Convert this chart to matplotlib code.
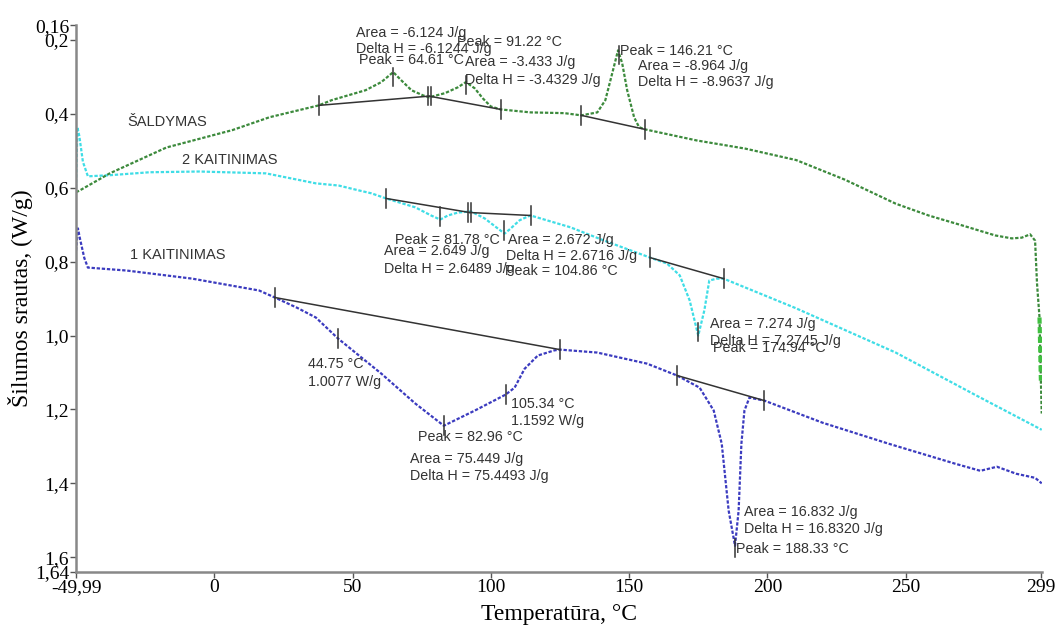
import matplotlib.pyplot as plt
from matplotlib.ticker import FixedLocator

plt.rcParams['font.family'] = ['Liberation Serif', 'DejaVu Serif']

# ŠALDYMAS (cooling) curve
green_T = [-49.99, -48.6, -37.8, -17.3, 6.5, 20, 37.8, 42.4, 54.7, 60.4, 64.7, 67.6, 71.3, 75.5, 77.7,
           83.4, 88.1, 91.0, 94.2, 97.1, 100, 103.6, 114.4, 126.6, 132.7, 138.5, 141.4, 143.9, 146.0,
           147.5, 149.3, 151.8, 153.6, 155.8, 174.5, 192, 210.4, 228, 246.4, 258.3, 270.5, 282.4, 288.4,
           292, 295, 296.8, 297.5, 298.4, 298.9, 299.2]
green_y = [0.612, 0.607, 0.561, 0.491, 0.444, 0.409, 0.377, 0.363, 0.336, 0.314, 0.287, 0.309, 0.336, 0.350, 0.355,
           0.344, 0.328, 0.314, 0.331, 0.358, 0.380, 0.388, 0.396, 0.398, 0.404, 0.396, 0.363, 0.290, 0.228,
           0.263, 0.336, 0.409, 0.436, 0.442, 0.472, 0.494, 0.525, 0.578, 0.643, 0.675, 0.702, 0.729, 0.737,
           0.735, 0.726, 0.743, 0.859, 0.951, 1.122, 1.211]

# 2 KAITINIMAS (second heating)
cyan_T = [-49.99, -49.5, -48.8, -47.5, -45.7, -37.8, -23.4, -5.4, 18.7, 36.7, 45, 52.2, 56.8, 62.2,
          72.7, 78.4, 81.7, 84.5, 88.1, 92.8, 97.8, 102.5, 105.0, 107.2, 110.4, 113.3, 114.4,
          128.8, 141, 157.6, 163.7, 168.3, 171.9, 175.0, 177.2, 179, 181.7, 184.2, 210, 246.4, 275, 299.2]
cyan_y = [0.60, 0.436, 0.46, 0.53, 0.569, 0.566, 0.558, 0.556, 0.561, 0.588, 0.594, 0.607, 0.615, 0.629,
          0.653, 0.675, 0.686, 0.675, 0.667, 0.664, 0.683, 0.710, 0.724, 0.710, 0.688, 0.678, 0.675,
          0.707, 0.743, 0.789, 0.805, 0.837, 0.905, 1.0, 0.932, 0.851, 0.846, 0.846, 0.925, 1.046, 1.16, 1.255]

# 1 KAITINIMAS (first heating)
blue_T = [-49.99, -49.3, -48.5, -47, -45.7, -31.7, -7.9, 16.2, 21.9, 30, 36.7, 44.75, 60.4, 72.7, 83.0,
          94.2, 105.3, 108.6, 112.2, 117, 123, 125, 138.5, 156.5, 167.3, 175.5, 180.6, 183.5, 186,
          188.3, 189.6, 190.6, 191.7, 193.5, 198.9, 220, 244, 268, 277, 283, 290, 296.8, 299.2]
blue_y = [0.77, 0.71, 0.74, 0.79, 0.816, 0.824, 0.846, 0.878, 0.897, 0.925, 0.951, 1.008, 1.103, 1.184, 1.244,
          1.203, 1.160, 1.141, 1.090, 1.054, 1.040, 1.038, 1.046, 1.076, 1.108, 1.141, 1.203, 1.293, 1.474,
          1.569, 1.474, 1.293, 1.203, 1.168, 1.176, 1.236, 1.293, 1.347, 1.366, 1.355, 1.374, 1.385, 1.400]

# baselines (start T, start y, end T, end y)
baselines = [(37.8, 0.377, 77.7, 0.352), (77.7, 0.352, 103.6, 0.388), (132.7, 0.404, 155.8, 0.442),
             (62.2, 0.629, 92.4, 0.667), (92.4, 0.667, 114.4, 0.675), (157.6, 0.789, 184.2, 0.846),
             (21.9, 0.897, 125, 1.038), (167.3, 1.108, 198.9, 1.176)]

# marker ticks (T, y)
marks = [(37.8, 0.377), (77.2, 0.352), (78.2, 0.352), (103.6, 0.388), (132.7, 0.404), (155.8, 0.442),
         (64.6, 0.30), (91.2, 0.322), (146.2, 0.24),
         (62.2, 0.629), (91.9, 0.667), (92.9, 0.667), (114.4, 0.675), (157.6, 0.789), (184.2, 0.846),
         (81.8, 0.678), (104.9, 0.716), (174.9, 0.99),
         (21.9, 0.897), (125, 1.038), (167.3, 1.108), (198.9, 1.176),
         (44.75, 1.008), (82.96, 1.244), (105.34, 1.16), (188.33, 1.575)]

y_ticks = [0.16, 0.2, 0.4, 0.6, 0.8, 1.0, 1.2, 1.4, 1.6, 1.64]
y_labels = ['0,16', '0,2', '0,4', '0,6', '0,8', '1,0', '1,2', '1,4', '1,6', '1,64']
x_ticks = [-49.99, 0, 50, 100, 150, 200, 250, 299]
x_labels = ['-49,99', '0', '50', '100', '150', '200', '250', '299']

fig = plt.figure(figsize=(10.56, 6.3), dpi=100)
ax = fig.add_axes([0.072, 0.092, 0.915, 0.868])

dots = (0, (1.5, 0.8))
ax.plot(blue_T, blue_y, color='#3b3bbf', lw=1.6, ls=dots)
ax.plot(cyan_T, cyan_y, color='#3fdde6', lw=1.6, ls=dots)
ax.plot(green_T, green_y, color='#3c8a3c', lw=1.6, ls=dots)
ax.plot(green_T[-3:-1], green_y[-3:-1], color='#3fbf3f', lw=3, ls=dots)

for x0, y0, x1, y1 in baselines:
    ax.plot([x0, x1], [y0, y1], color='#333333', lw=1.1)
for t, y in marks:
    ax.plot([t, t], [y - 0.025, y + 0.025], color='#333333', lw=1.1)

sans = dict(family=['Liberation Sans', 'DejaVu Sans'], fontsize=10.3, color='#333333', va='center', ha='left')
notes = [
    (51.4, 0.182, 'Area = -6.124 J/g'), (51.4, 0.225, 'Delta H = -6.1244 J/g'), (52.2, 0.255, 'Peak = 64.61 °C'),
    (87.8, 0.206, 'Peak = 91.22 °C'), (90.6, 0.26, 'Area = -3.433 J/g'), (90.6, 0.309, 'Delta H = -3.4329 J/g'),
    (146.8, 0.23, 'Peak = 146.21 °C'), (153.2, 0.271, 'Area = -8.964 J/g'), (153.2, 0.314, 'Delta H = -8.9637 J/g'),
    (65.5, 0.74, 'Peak = 81.78 °C'), (61.2, 0.77, 'Area = 2.649 J/g'), (61.2, 0.819, 'Delta H = 2.6489 J/g'),
    (106.1, 0.74, 'Area = 2.672 J/g'), (105.4, 0.786, 'Delta H = 2.6716 J/g'), (105.0, 0.824, 'Peak = 104.86 °C'),
    (179.1, 0.97, 'Area = 7.274 J/g'), (179.1, 1.014, 'Delta H = 7.2745 J/g'), (180.2, 1.033, 'Peak = 174.94 °C'),
    (33.8, 1.076, '44.75 °C'), (33.8, 1.125, '1.0077 W/g'),
    (107.2, 1.184, '105.34 °C'), (107.2, 1.23, '1.1592 W/g'),
    (73.7, 1.274, 'Peak = 82.96 °C'), (70.9, 1.333, 'Area = 75.449 J/g'), (70.9, 1.38, 'Delta H = 75.4493 J/g'),
    (191.4, 1.477, 'Area = 16.832 J/g'), (191.4, 1.523, 'Delta H = 16.8320 J/g'), (188.8, 1.577, 'Peak = 188.33 °C'),
]
for t, y, s in notes:
    ax.text(t, y, s, **sans)

curve_names = dict(sans, fontsize=10.5)
ax.text(-31.3, 0.423, 'ŠALDYMAS', **curve_names)
ax.text(-11.5, 0.526, '2 KAITINIMAS', **curve_names)
ax.text(-30.6, 0.781, '1 KAITINIMAS', **curve_names)

ax.set_xlim(-49.99, 299.4)
ax.set_ylim(1.64, 0.16)
ax.xaxis.set_major_locator(FixedLocator(x_ticks))
ax.set_xticklabels(x_labels)
ax.yaxis.set_major_locator(FixedLocator(y_ticks))
ax.set_yticklabels(y_labels)
ax.tick_params(labelsize=14, length=4, width=1, color='#555555', pad=1)
for side in ['top', 'right']:
    ax.spines[side].set_visible(False)
for side in ['left', 'bottom']:
    ax.spines[side].set_color('#888888')
    ax.spines[side].set_linewidth(1.8)

ax.set_xlabel('Temperatūra, °C', fontsize=17, labelpad=6)
ax.set_ylabel('Šilumos srautas, (W/g)', fontsize=17, labelpad=1)

fig.savefig('out.png', dpi=100)
